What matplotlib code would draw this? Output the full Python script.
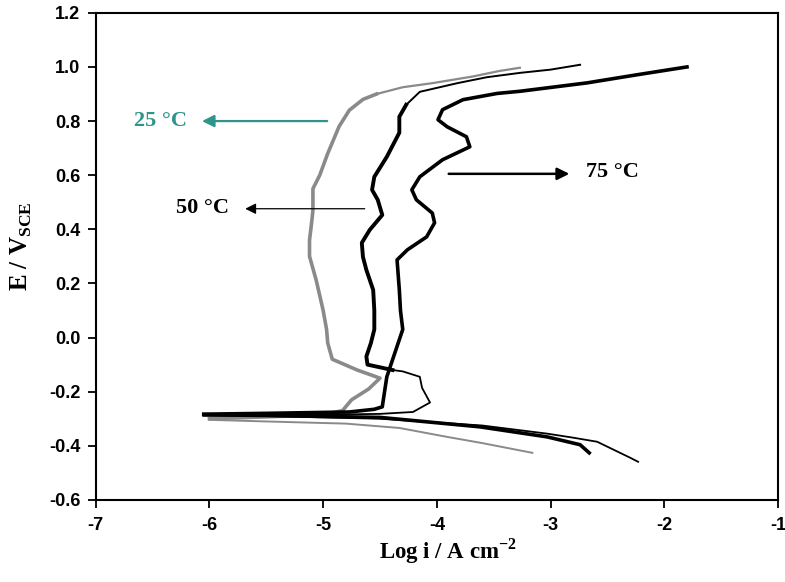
import matplotlib
matplotlib.use("Agg")
import matplotlib.pyplot as plt

# 25 C (gray)
logi_25_cat = [-3.16, -3.6, -3.91, -4.33, -4.8, -5.5, -6.0]
e_25_cat = [-0.426, -0.39, -0.367, -0.334, -0.318, -0.31, -0.304]
logi_25_an = [-6.0, -5.5, -5.0, -4.83, -4.75, -4.6, -4.5, -4.7, -4.92, -4.96, -4.97,
              -5.0, -5.06, -5.12, -5.12, -5.1, -5.09, -5.09, -5.03, -4.96, -4.86,
              -4.77, -4.65, -4.53]
e_25_an = [-0.30, -0.293, -0.285, -0.27, -0.23, -0.19, -0.15, -0.12, -0.08, -0.02, 0.03,
           0.10, 0.21, 0.30, 0.36, 0.43, 0.47, 0.55, 0.60, 0.68, 0.78,
           0.84, 0.88, 0.90]
logi_25_top = [-4.53, -4.3, -4.04, -3.68, -3.45, -3.27]
e_25_top = [0.90, 0.925, 0.94, 0.965, 0.985, 0.997]

# 50 C (black)
logi_50_cat = [-2.23, -2.30, -2.59, -2.8, -3.03, -3.6, -4.5, -5.5, -6.05]
e_50_cat = [-0.459, -0.444, -0.385, -0.37, -0.355, -0.325, -0.30, -0.29, -0.288]
logi_50_loop = [-6.05, -5.0, -4.5, -4.21, -4.06, -4.13, -4.15, -4.3, -4.39]
e_50_loop = [-0.288, -0.285, -0.282, -0.275, -0.24, -0.186, -0.145, -0.125, -0.12]
logi_50_pas = [-4.39, -4.61, -4.62, -4.58, -4.55, -4.55, -4.56, -4.62, -4.65, -4.66,
               -4.59, -4.48, -4.52, -4.57, -4.55, -4.44, -4.33, -4.33, -4.27]
e_50_pas = [-0.12, -0.10, -0.07, -0.02, 0.03, 0.10, 0.176, 0.25, 0.298, 0.35,
            0.398, 0.453, 0.509, 0.546, 0.594, 0.668, 0.757, 0.816, 0.86]
logi_50_top = [-4.27, -4.15, -3.82, -3.56, -3.27, -3.0, -2.74]
e_50_top = [0.86, 0.908, 0.94, 0.962, 0.978, 0.99, 1.008]

# 75 C (black, thick)
logi_75_cat = [-2.66, -2.74, -3.03, -3.62, -4.5, -5.5, -6.05]
e_75_cat = [-0.426, -0.396, -0.367, -0.33, -0.295, -0.288, -0.285]
logi_75_an = [-6.05, -5.5, -4.77, -4.55, -4.48, -4.46, -4.44, -4.38, -4.30, -4.32,
              -4.33, -4.35, -4.26, -4.09, -4.02, -4.04, -4.18, -4.22, -4.15, -3.95,
              -3.71, -3.74, -3.91, -3.99, -3.95, -3.77, -3.47, -3.27, -2.68, -2.24, -1.80]
e_75_an = [-0.283, -0.28, -0.275, -0.265, -0.256, -0.2, -0.145, -0.07, 0.03, 0.10,
           0.176, 0.287, 0.324, 0.372, 0.424, 0.46, 0.509, 0.546, 0.594, 0.657,
           0.705, 0.742, 0.779, 0.805, 0.842, 0.879, 0.902, 0.91, 0.941, 0.971, 1.0]

xticks = [-7, -6, -5, -4, -3, -2, -1]
yticks = [-0.6, -0.4, -0.2, 0.0, 0.2, 0.4, 0.6, 0.8, 1.0, 1.2]

plt.rcParams["mathtext.fontset"] = "custom"
plt.rcParams["mathtext.rm"] = "Liberation Serif:bold"
plt.rcParams["mathtext.bf"] = "Liberation Serif:bold"

fig = plt.figure(figsize=(7.85, 5.82), dpi=100)
ax = fig.add_axes([0.122, 0.141, 0.869, 0.837])

gris = "#8a8a8a"
ax.plot(logi_25_cat, e_25_cat, color=gris, lw=1.4)
ax.plot(logi_25_an, e_25_an, color=gris, lw=2.6)
ax.plot(logi_25_top, e_25_top, color=gris, lw=1.6)
ax.plot(logi_50_cat, e_50_cat, color="black", lw=1.3)
ax.plot(logi_50_loop, e_50_loop, color="black", lw=1.3)
ax.plot(logi_50_pas, e_50_pas, color="black", lw=2.8)
ax.plot(logi_50_top, e_50_top, color="black", lw=1.4)
ax.plot(logi_75_cat, e_75_cat, color="black", lw=2.6)
ax.plot(logi_75_an, e_75_an, color="black", lw=2.6)

serif = "Liberation Serif"
teal = "#2f9489"
ax.annotate("", xy=(-6.09, 0.80), xytext=(-4.94, 0.80),
            arrowprops=dict(arrowstyle="-|>", color=teal, lw=1.6, mutation_scale=18))
ax.text(-6.43, 0.80, "25 °C", color=teal, fontsize=16, fontweight="bold",
        family=serif, ha="center", va="center")
ax.annotate("", xy=(-5.71, 0.476), xytext=(-4.61, 0.476),
            arrowprops=dict(arrowstyle="-|>", color="#888888", lw=0.9,
                            mutation_scale=16, fc="black", ec="black"))
ax.text(-6.06, 0.48, "50 °C", color="black", fontsize=16, fontweight="bold",
        family=serif, ha="center", va="center")
ax.annotate("", xy=(-2.81, 0.605), xytext=(-3.92, 0.605),
            arrowprops=dict(arrowstyle="-|>", color="black", lw=1.8, mutation_scale=18))
ax.text(-2.46, 0.61, "75 °C", color="black", fontsize=16, fontweight="bold",
        family=serif, ha="center", va="center")

ax.set_xlim(-7, -1)
ax.set_ylim(-0.6, 1.2)
ax.set_xticks(xticks)
ax.set_yticks(yticks)
ax.set_xticklabels([str(t) for t in xticks])
ax.set_yticklabels(["%.1f" % t for t in yticks])
ax.tick_params(direction="out", length=6, width=1.3, top=False, right=False)
ax.tick_params(axis="y", pad=5)
ax.tick_params(axis="x", pad=6)
for lab in ax.get_xticklabels() + ax.get_yticklabels():
    lab.set_family("Liberation Sans")
    lab.set_fontweight("bold")
    lab.set_fontsize(13)
for sp in ax.spines.values():
    sp.set_linewidth(1.5)

ax.set_xlabel(r"Log i / A cm$^{\mathrm{-2}}$", family=serif, fontweight="bold", fontsize=16.5)
ax.set_ylabel(r"E / V$_{\mathrm{SCE}}$", family=serif, fontweight="bold", fontsize=18)
ax.xaxis.set_label_coords(0.516, -0.074)
ax.yaxis.set_label_coords(-0.09, 0.52)

fig.savefig("out.png", dpi=100)
